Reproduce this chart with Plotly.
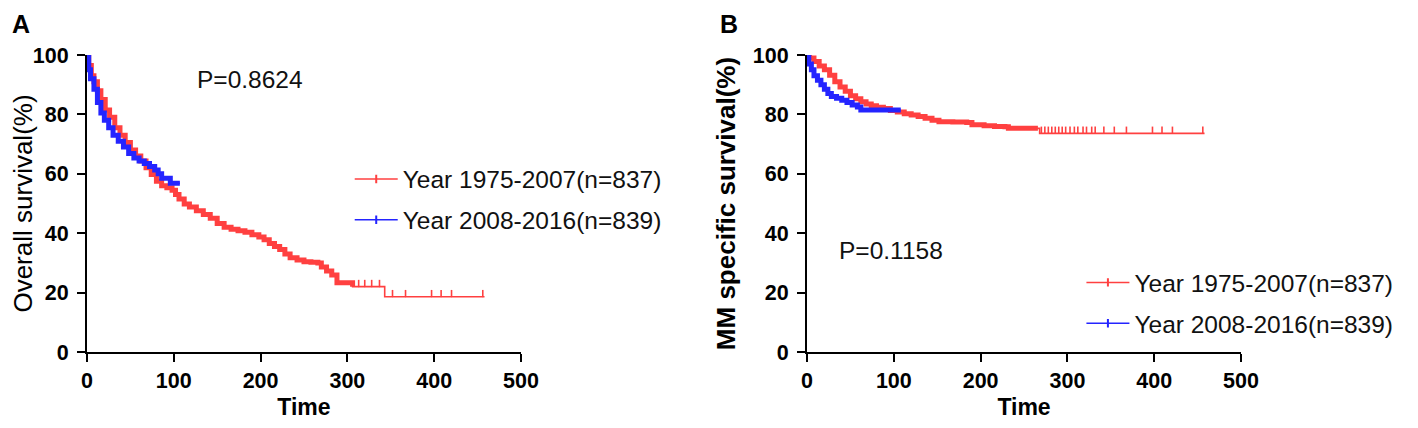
import numpy as np
import plotly.graph_objects as go

# ---- Panel A: overall survival (step points) ----
a_red_t = [0, 2, 5, 8, 12, 16, 21, 26, 32, 38, 44, 50, 56, 62, 68, 74, 80, 86, 92, 98,
           102, 106, 112, 118, 126, 134, 142, 150, 158, 166, 174, 182, 190, 198, 204,
           210, 216, 222, 228, 234, 242, 250, 258, 266, 270, 276, 282, 288, 306, 343, 458]
a_red_s = [100, 96.5, 93, 91, 88, 85, 81.5, 79, 75.5, 73, 70.5, 68, 66, 64.3, 62, 59.8,
           57.5, 56, 55.3, 54.5, 53, 51.5, 49.8, 48.8, 47.6, 46.3, 45, 43.3, 42, 41.3, 40.8,
           40.3, 39.5, 38.7, 37.8, 36.5, 35.5, 34.5, 33, 31.7, 31, 30.4, 30.2, 30, 28.6,
           27.3, 25.9, 23.3, 22, 18.6, 18.6]
a_red_cens_t = [313, 320, 328, 337, 352, 367, 397, 408, 420, 456]
a_red_cens_s = [22, 22, 22, 22, 18.6, 18.6, 18.6, 18.6, 18.6, 18.6]

a_blue_t = [0, 2, 4, 8, 12, 16, 20, 25, 30, 36, 42, 48, 54, 60, 66, 72, 78, 82, 86, 96, 107]
a_blue_s = [100, 95, 92, 88.5, 84, 80.5, 78, 75.5, 73, 71, 69, 66.8, 65.3, 64.3, 63.5,
            62.5, 61.3, 60, 58.5, 56.8, 56.8]

# ---- Panel B: MM specific survival ----
b_red_t = [0, 3, 8, 14, 20, 26, 32, 38, 44, 50, 56, 62, 68, 74, 80, 88, 96, 104, 112, 120,
           128, 136, 144, 152, 168, 184, 190, 204, 216, 228, 232, 266, 268, 458]
b_red_s = [100, 99, 97.8, 96.3, 95, 93.2, 91, 89.2, 87.8, 86.3, 85.3, 84.3, 83.5, 82.9,
           82.4, 82, 81.3, 80.8, 80.2, 79.8, 79.3, 78.7, 78, 77.5, 77.4, 77.3, 76.5, 76.2,
           75.9, 75.8, 75.3, 75.3, 73.6, 73.6]
b_red_cens_t = [270, 274, 278, 282, 286, 290, 294, 298, 303, 308, 312, 318, 322, 328, 332,
                342, 354, 368, 398, 409, 421, 456]
b_red_cens_s = [73.6] * len(b_red_cens_t)

b_blue_t = [0, 2, 5, 8, 12, 16, 20, 24, 28, 34, 40, 46, 52, 58, 62, 108]
b_blue_s = [100, 97, 95, 93, 91.5, 90, 88.5, 87, 86, 85.4, 84.8, 84, 83.2, 82.5, 81.5, 81.5]

names = ["Year 1975-2007(n=837)", "Year 2008-2016(n=839)"]
p_text = ["P=0.8624", "P=0.1158"]

RED = "#FF4040"
BLUE = "#2424FF"
FONT = "Arial, Liberation Sans, sans-serif"

fig = go.Figure()


def add_curve(t, s, color, xa, ya, dense_until, cens_t=None, cens_s=None):
    t = np.array(t, dtype=float)
    s = np.array(s, dtype=float)
    fig.add_trace(go.Scatter(x=t, y=s, mode="lines", line=dict(color=color, width=1.6, shape="hv"),
                             xaxis=xa, yaxis=ya, showlegend=False, hoverinfo="skip"))
    # densely censored part looks like a thick line
    k = np.searchsorted(t, dense_until, side="right")
    td = np.append(t[:k], dense_until)
    sd = np.append(s[:k], s[k - 1])
    fig.add_trace(go.Scatter(x=td, y=sd, mode="lines", line=dict(color=color, width=5, shape="hv"),
                             xaxis=xa, yaxis=ya, showlegend=False, hoverinfo="skip"))
    if cens_t is not None:
        # censor ticks pointing up from the curve
        n = len(cens_t)
        fig.add_trace(go.Scatter(x=cens_t, y=cens_s, mode="markers",
                                 marker=dict(size=1, color=color),
                                 error_y=dict(type="data", symmetric=False, array=[2.3] * n,
                                              arrayminus=[0] * n, width=0, thickness=1.6,
                                              color=color),
                                 xaxis=xa, yaxis=ya, showlegend=False, hoverinfo="skip"))


add_curve(a_red_t, a_red_s, RED, "x", "y", 306, a_red_cens_t, a_red_cens_s)
add_curve(a_blue_t, a_blue_s, BLUE, "x", "y", 107)
add_curve(b_red_t, b_red_s, RED, "x2", "y2", 266, b_red_cens_t, b_red_cens_s)
add_curve(b_blue_t, b_blue_s, BLUE, "x2", "y2", 108)

# legend entries (line with a censor tick)
for leg, xa, ya in [("legend", "x", "y"), ("legend2", "x2", "y2")]:
    for name, color in zip(names, [RED, BLUE]):
        fig.add_trace(go.Scatter(x=[None], y=[None], mode="lines+markers", name=name,
                                 line=dict(color=color, width=1.6),
                                 marker=dict(symbol="line-ns", size=6, color=color,
                                             line=dict(color=color, width=2)),
                                 xaxis=xa, yaxis=ya, legend=leg, legendgroup=leg + name))

axis_common = dict(showline=True, linecolor="black", linewidth=2, ticks="outside", ticklen=8,
                   tickwidth=2, tickcolor="black", showgrid=False, zeroline=False,
                   automargin=False,
                   tickfont=dict(family=FONT, size=21.5, color="black", weight="bold"))

xa = dict(axis_common, range=[0, 500], tickvals=[0, 100, 200, 300, 400, 500],
          title=dict(text="Time", font=dict(family=FONT, size=23, color="black", weight="bold"),
                     standoff=9))
ya = dict(axis_common, range=[0, 100], tickvals=[0, 20, 40, 60, 80, 100], domain=[0, 1],
          ticklabelstandoff=4)

# the page adds an 8 px body margin, so the figure is 16 px smaller than the window
OFF = 8
W, H = 1418 - 2 * OFF, 428 - 2 * OFF
# plot area in window pixels: left 87, right 1273, top 55, bottom 352
L, T = 87 - OFF, 55 - OFF
R, B = W - (1273 - OFF), H - (352 - OFF)
PW, PH = W - L - R, H - T - B


def px_x(p):
    return (p - OFF - L) / PW


def px_y(p):
    return (H - B - (p - OFF)) / PH


fig.update_layout(
    width=W, height=H,
    margin=dict(l=L, r=R, t=T, b=B),
    plot_bgcolor="white", paper_bgcolor="white",
    xaxis=dict(xa, domain=[0, px_x(533)], anchor="y"),
    yaxis=dict(ya, anchor="x",
               title=dict(text="Overall survival(%)", standoff=4,
                          font=dict(family=FONT, size=26, color="black"))),
    xaxis2=dict(xa, domain=[px_x(827), 1], anchor="y2"),
    yaxis2=dict(ya, anchor="x2",
                title=dict(text="MM specific survival(%)", standoff=10,
                           font=dict(family=FONT, size=26, color="black", weight="bold"))),
    legend=dict(x=px_x(357), y=px_y(199.5), xanchor="left", yanchor="middle",
                bgcolor="rgba(0,0,0,0)",
                font=dict(family=FONT, size=24.5, color="#111111"), itemwidth=43,
                tracegroupgap=6),
    legend2=dict(x=px_x(1109), y=px_y(303), xanchor="left", yanchor="middle",
                 bgcolor="rgba(0,0,0,0)",
                 font=dict(family=FONT, size=24.5, color="#111111"), itemwidth=43,
                 tracegroupgap=6),
    annotations=[
        dict(text=p_text[0], x=124, y=91.6, xref="x", yref="y", xanchor="left", yanchor="middle",
             showarrow=False, font=dict(family=FONT, size=24.5, color="#111111")),
        dict(text=p_text[1], x=34, y=34.3, xref="x2", yref="y2", xanchor="left", yanchor="middle",
             showarrow=False, font=dict(family=FONT, size=24.5, color="#111111")),
        dict(text="A", x=px_x(OFF), y=px_y(OFF), xref="paper", yref="paper", xanchor="left",
             yanchor="top", showarrow=False,
             font=dict(family=FONT, size=25, color="black", weight="bold")),
        dict(text="B", x=px_x(736), y=px_y(OFF), xref="paper", yref="paper", xanchor="left",
             yanchor="top", showarrow=False,
             font=dict(family=FONT, size=25, color="black", weight="bold")),
    ],
)

fig.write_html("out.html")
